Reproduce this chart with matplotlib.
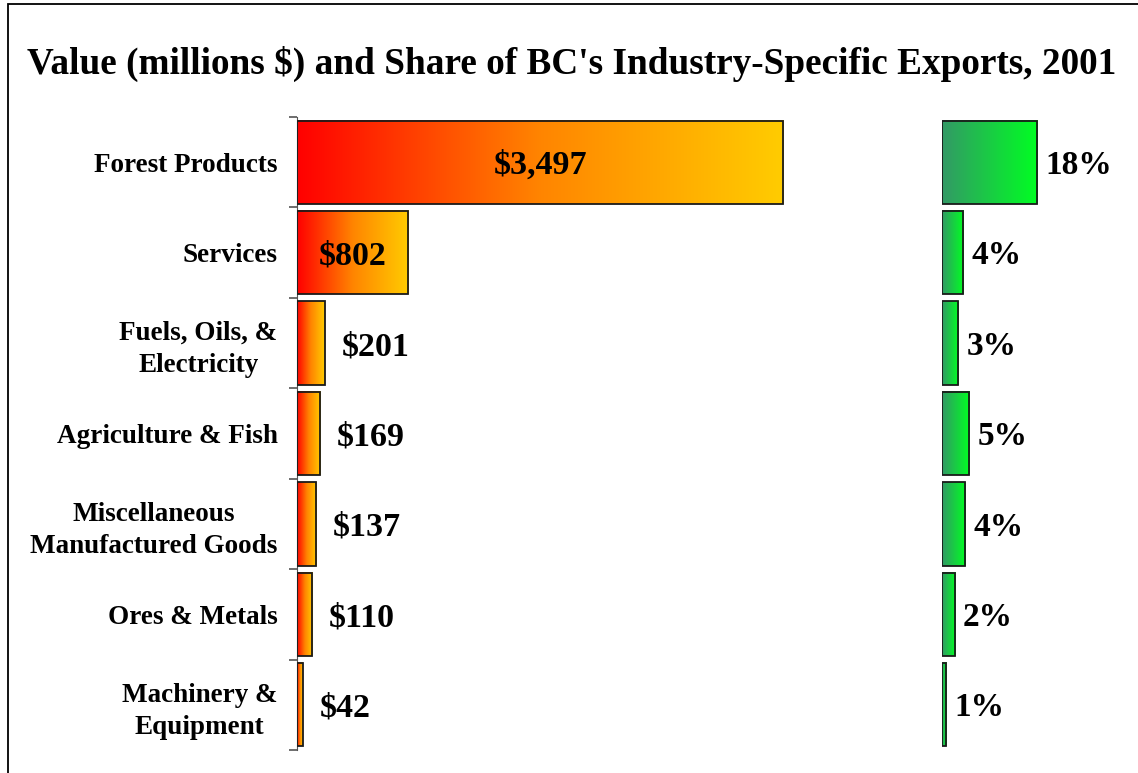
import matplotlib
matplotlib.use("Agg")
import matplotlib.pyplot as plt
import numpy as np
from matplotlib.colors import LinearSegmentedColormap
from matplotlib.patches import Rectangle

plt.rcParams['font.family'] = ['Liberation Serif', 'DejaVu Serif']
plt.rcParams['font.weight'] = 'bold'

# data
categories = ["Forest Products", "Services", "Fuels, Oils, &\nElectricity",
              "Agriculture & Fish", "Miscellaneous\nManufactured Goods",
              "Ores & Metals", "Machinery &\nEquipment"]
values = [3497, 802, 201, 169, 137, 110, 42]
value_labels = ["$3,497", "$802", "$201", "$169", "$137", "$110", "$42"]
shares = [18.0, 4.07, 3.1, 5.2, 4.45, 2.5, 0.9]
share_labels = ["18%", "4%", "3%", "5%", "4%", "2%", "1%"]

W, H = 1138, 773
fig = plt.figure(figsize=(W / 100, H / 100), dpi=100)

# outer frame (cut off at right and bottom, as in the original)
fig.patches.append(Rectangle((8 / W, -0.01), 1.2, 1 - 4 / H + 0.01,
                             transform=fig.transFigure, fill=False,
                             edgecolor="black", linewidth=1.3))

fig.text(27 / W, 1 - 74 / H,
         "Value (millions $) and Share of BC's Industry-Specific Exports, 2001",
         ha="left", va="baseline", fontsize=26.8, fontweight="bold")

bottom = 1 - 750 / H
height = (750 - 117) / H
ax1 = fig.add_axes([297 / W, bottom, 570 / W, height])
ax2 = fig.add_axes([941.5 / W, bottom, 185 / W, height])

warm = LinearSegmentedColormap.from_list("warm", ["#ff0000", "#ff8500", "#ffcc00"])
green = LinearSegmentedColormap.from_list("green", ["#339966", "#00ff22"])
grad = np.linspace(0, 1, 256).reshape(1, -1)

y = np.arange(len(categories))


def gradient_bars(ax, vals, cmap, xmax):
    bars = ax.barh(y, vals, height=0.92, facecolor="none",
                   edgecolor="#1a1a1a", linewidth=1.3, zorder=3)
    for b in bars:
        x0, y0 = b.get_x(), b.get_y()
        ax.imshow(grad, cmap=cmap, aspect="auto", zorder=2,
                  extent=[x0, x0 + b.get_width(), y0, y0 + b.get_height()])
    ax.set_xlim(0, xmax)
    ax.set_ylim(len(categories) - 0.5, -0.5)
    for s in ax.spines.values():
        s.set_visible(False)
    ax.set_xticks([])
    return bars


gradient_bars(ax1, values, warm, 4100)
gradient_bars(ax2, shares, green, 35)

# left axis: line, boundary ticks, category labels
ax1.spines["left"].set_visible(True)
ax1.spines["left"].set_color("#555555")
ax1.set_yticks(y)
ax1.set_yticklabels(categories, fontsize=19.5, fontweight="bold",
                    multialignment="center", linespacing=1.38)
ax1.tick_params(axis="y", which="major", length=0, pad=14)
ax1.set_yticks(np.arange(len(categories) + 1) - 0.5, minor=True)
ax1.tick_params(axis="y", which="minor", length=6, color="#555555", width=1.2)
ax2.set_yticks([])

# labels: baseline sits half a cap height below the bar centre
for i, (v, lab) in enumerate(zip(values, value_labels)):
    if v > 500:
        ax1.annotate(lab, (v / 2, i), xytext=(0, -8.6), textcoords="offset points",
                     ha="center", va="baseline", fontsize=24.5,
                     fontweight="bold", zorder=4)
    else:
        ax1.annotate(lab, (v, i), xytext=(12, -8.6), textcoords="offset points",
                     ha="left", va="baseline", fontsize=24.5, fontweight="bold")

for i, (s, lab) in enumerate(zip(shares, share_labels)):
    ax2.annotate(lab, (s, i), xytext=(6, -8.4), textcoords="offset points",
                 ha="left", va="baseline", fontsize=24, fontweight="bold",
                 annotation_clip=False)

fig.savefig("out.png", dpi=100)
